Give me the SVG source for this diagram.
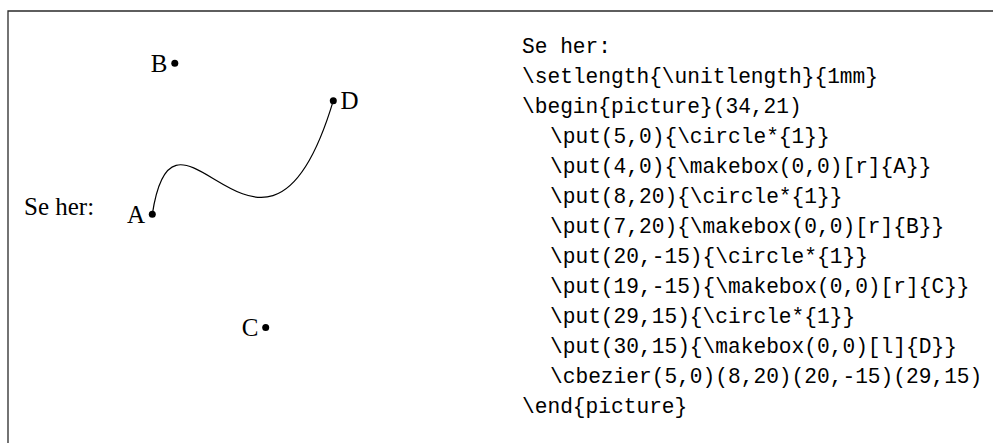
<svg xmlns="http://www.w3.org/2000/svg" width="993" height="443" viewBox="0 0 993 443">
<style>
.frame{fill:none;stroke:#2a2a2a;stroke-width:1.3}
.dot{fill:#000}
.lbl{font-family:"Liberation Serif","DejaVu Serif",serif;font-size:25px;fill:#000}
.code{font-family:"Liberation Mono","DejaVu Sans Mono",monospace;font-size:21.2px;fill:#000}
.curve{fill:none;stroke:#000;stroke-width:1.2}
</style>
<rect width="993" height="443" fill="#fff"/>
<path class="frame" d="M993,11 H8 V443"/>
<text class="lbl" x="24" y="215">Se her:</text>
<g id="connectors">
<path class="curve" d="M152.3,214.3 C175,63.3 265.5,327.6 333.3,100.7"/>
</g>
<g id="A">
<circle class="dot" cx="152.3" cy="214.3" r="3.5"/>
<text class="lbl" x="145" y="222.5" text-anchor="end">A</text>
</g>
<g id="B">
<circle class="dot" cx="174.8" cy="63.2" r="3.5"/>
<text class="lbl" x="167.5" y="71.5" text-anchor="end">B</text>
</g>
<g id="C">
<circle class="dot" cx="265.7" cy="327.6" r="3.5"/>
<text class="lbl" x="258.5" y="336" text-anchor="end">C</text>
</g>
<g id="D">
<circle class="dot" cx="333.3" cy="100.7" r="3.5"/>
<text class="lbl" x="340.5" y="109" text-anchor="start">D</text>
</g>
<g id="code">
<text class="code" x="522" y="53">Se her:</text>
<text class="code" x="522" y="83">\setlength{\unitlength}{1mm}</text>
<text class="code" x="522" y="113">\begin{picture}(34,21)</text>
<text class="code" x="550" y="143">\put(5,0){\circle*{1}}</text>
<text class="code" x="550" y="173">\put(4,0){\makebox(0,0)[r]{A}}</text>
<text class="code" x="550" y="203">\put(8,20){\circle*{1}}</text>
<text class="code" x="550" y="233">\put(7,20){\makebox(0,0)[r]{B}}</text>
<text class="code" x="550" y="263">\put(20,-15){\circle*{1}}</text>
<text class="code" x="550" y="293">\put(19,-15){\makebox(0,0)[r]{C}}</text>
<text class="code" x="550" y="323">\put(29,15){\circle*{1}}</text>
<text class="code" x="550" y="353">\put(30,15){\makebox(0,0)[l]{D}}</text>
<text class="code" x="550" y="383">\cbezier(5,0)(8,20)(20,-15)(29,15)</text>
<text class="code" x="522" y="413">\end{picture}</text>
</g>
</svg>
